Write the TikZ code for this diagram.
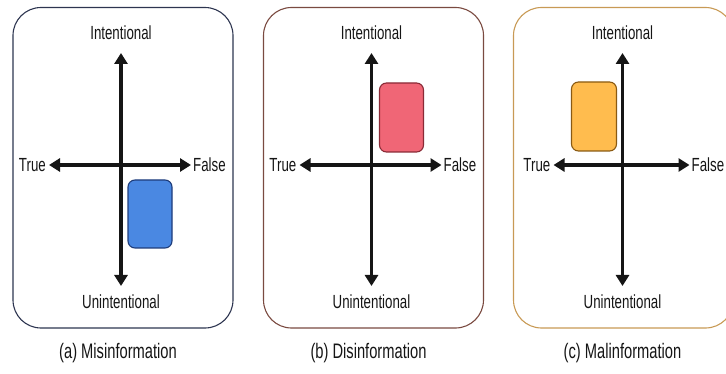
\documentclass[tikz,border=0pt]{standalone}
\usepackage{fontspec}
\setmainfont[FakeStretch=0.7]{Liberation Sans}
\usetikzlibrary{arrows.meta}
\definecolor{txt}{HTML}{151515}
\definecolor{frameA}{HTML}{2D3550}
\definecolor{frameB}{HTML}{7A4A40}
\definecolor{frameC}{HTML}{C89A55}
\definecolor{blueF}{HTML}{4A88E2}
\definecolor{blueD}{HTML}{1E3C7A}
\definecolor{redF}{HTML}{F06676}
\definecolor{redD}{HTML}{8A2A36}
\definecolor{orF}{HTML}{FFBC4E}
\definecolor{orD}{HTML}{8A5A12}
\tikzset{
  panelframe/.style={line width=1.1pt, rounded corners=28pt},
  axisline/.style={line width=3.8pt, draw=txt, {Triangle[length=11pt,width=13pt]}-{Triangle[length=11pt,width=13pt]}},
  lbl/.style={text=txt, inner sep=0pt, font=\fontsize{19}{22}\selectfont},
  captext/.style={text=txt, inner sep=0pt, font=\fontsize{21}{24}\selectfont},
  qbox/.style={line width=1.1pt, rounded corners=7pt}
}
\begin{document}
\begin{tikzpicture}[x=1pt,y=-1pt]
\useasboundingbox (0,0) rectangle (726,374);
% ---------- panel (a)
\begin{scope}
  \draw[panelframe, draw=frameA] (13,7.5) rectangle (233,328);
  \coordinate (aT) at (121,53);
  \coordinate (aB) at (121,286);
  \coordinate (aL) at (49,165);
  \coordinate (aR) at (191,165);
  \draw[axisline] (aL) -- (aR);
  \draw[axisline] (aB) -- (aT);
  \node[lbl] (aInt) at (121,33) {Intentional};
  \node[lbl] (aUnint) at (121,302) {Unintentional};
  \node[lbl, anchor=east] (aTrue) at (46,165) {True};
  \node[lbl, anchor=west] (aFalse) at (193,165) {False};
  \draw[qbox, draw=blueD, fill=blueF] (128,180) rectangle (172,248);
  \node[captext] (aCap) at (118,353) {(a) Misinformation};
\end{scope}
% ---------- panel (b)
\begin{scope}[xshift=250.5pt]
  \draw[panelframe, draw=frameB] (13,7.5) rectangle (233,328);
  \coordinate (bT) at (121,53);
  \coordinate (bB) at (121,286);
  \coordinate (bL) at (49,165);
  \coordinate (bR) at (191,165);
  \draw[axisline] (bL) -- (bR);
  \draw[axisline] (bB) -- (bT);
  \node[lbl] (bInt) at (121,33) {Intentional};
  \node[lbl] (bUnint) at (121,302) {Unintentional};
  \node[lbl, anchor=east] (bTrue) at (46,165) {True};
  \node[lbl, anchor=west] (bFalse) at (193,165) {False};
  \draw[qbox, draw=redD, fill=redF] (129,83) rectangle (173,152);
  \node[captext] (bCap) at (118,353) {(b) Disinformation};
\end{scope}
% ---------- panel (c)
\begin{scope}[xshift=501.5pt]
  \draw[panelframe, draw=frameC] (12,7.5) rectangle (232,328);
  \coordinate (cT) at (121,53);
  \coordinate (cB) at (121,286);
  \coordinate (cL) at (52,165);
  \coordinate (cR) at (188,165);
  \draw[axisline] (cL) -- (cR);
  \draw[axisline] (cB) -- (cT);
  \node[lbl] (cInt) at (121,33) {Intentional};
  \node[lbl] (cUnint) at (121,302) {Unintentional};
  \node[lbl, anchor=east] (cTrue) at (49,165) {True};
  \node[lbl, anchor=west] (cFalse) at (190,165) {False};
  \draw[qbox, draw=orD, fill=orF] (70,82) rectangle (115,151);
  \node[captext] (cCap) at (121,353) {(c) Malinformation};
\end{scope}
\end{tikzpicture}
\end{document}
